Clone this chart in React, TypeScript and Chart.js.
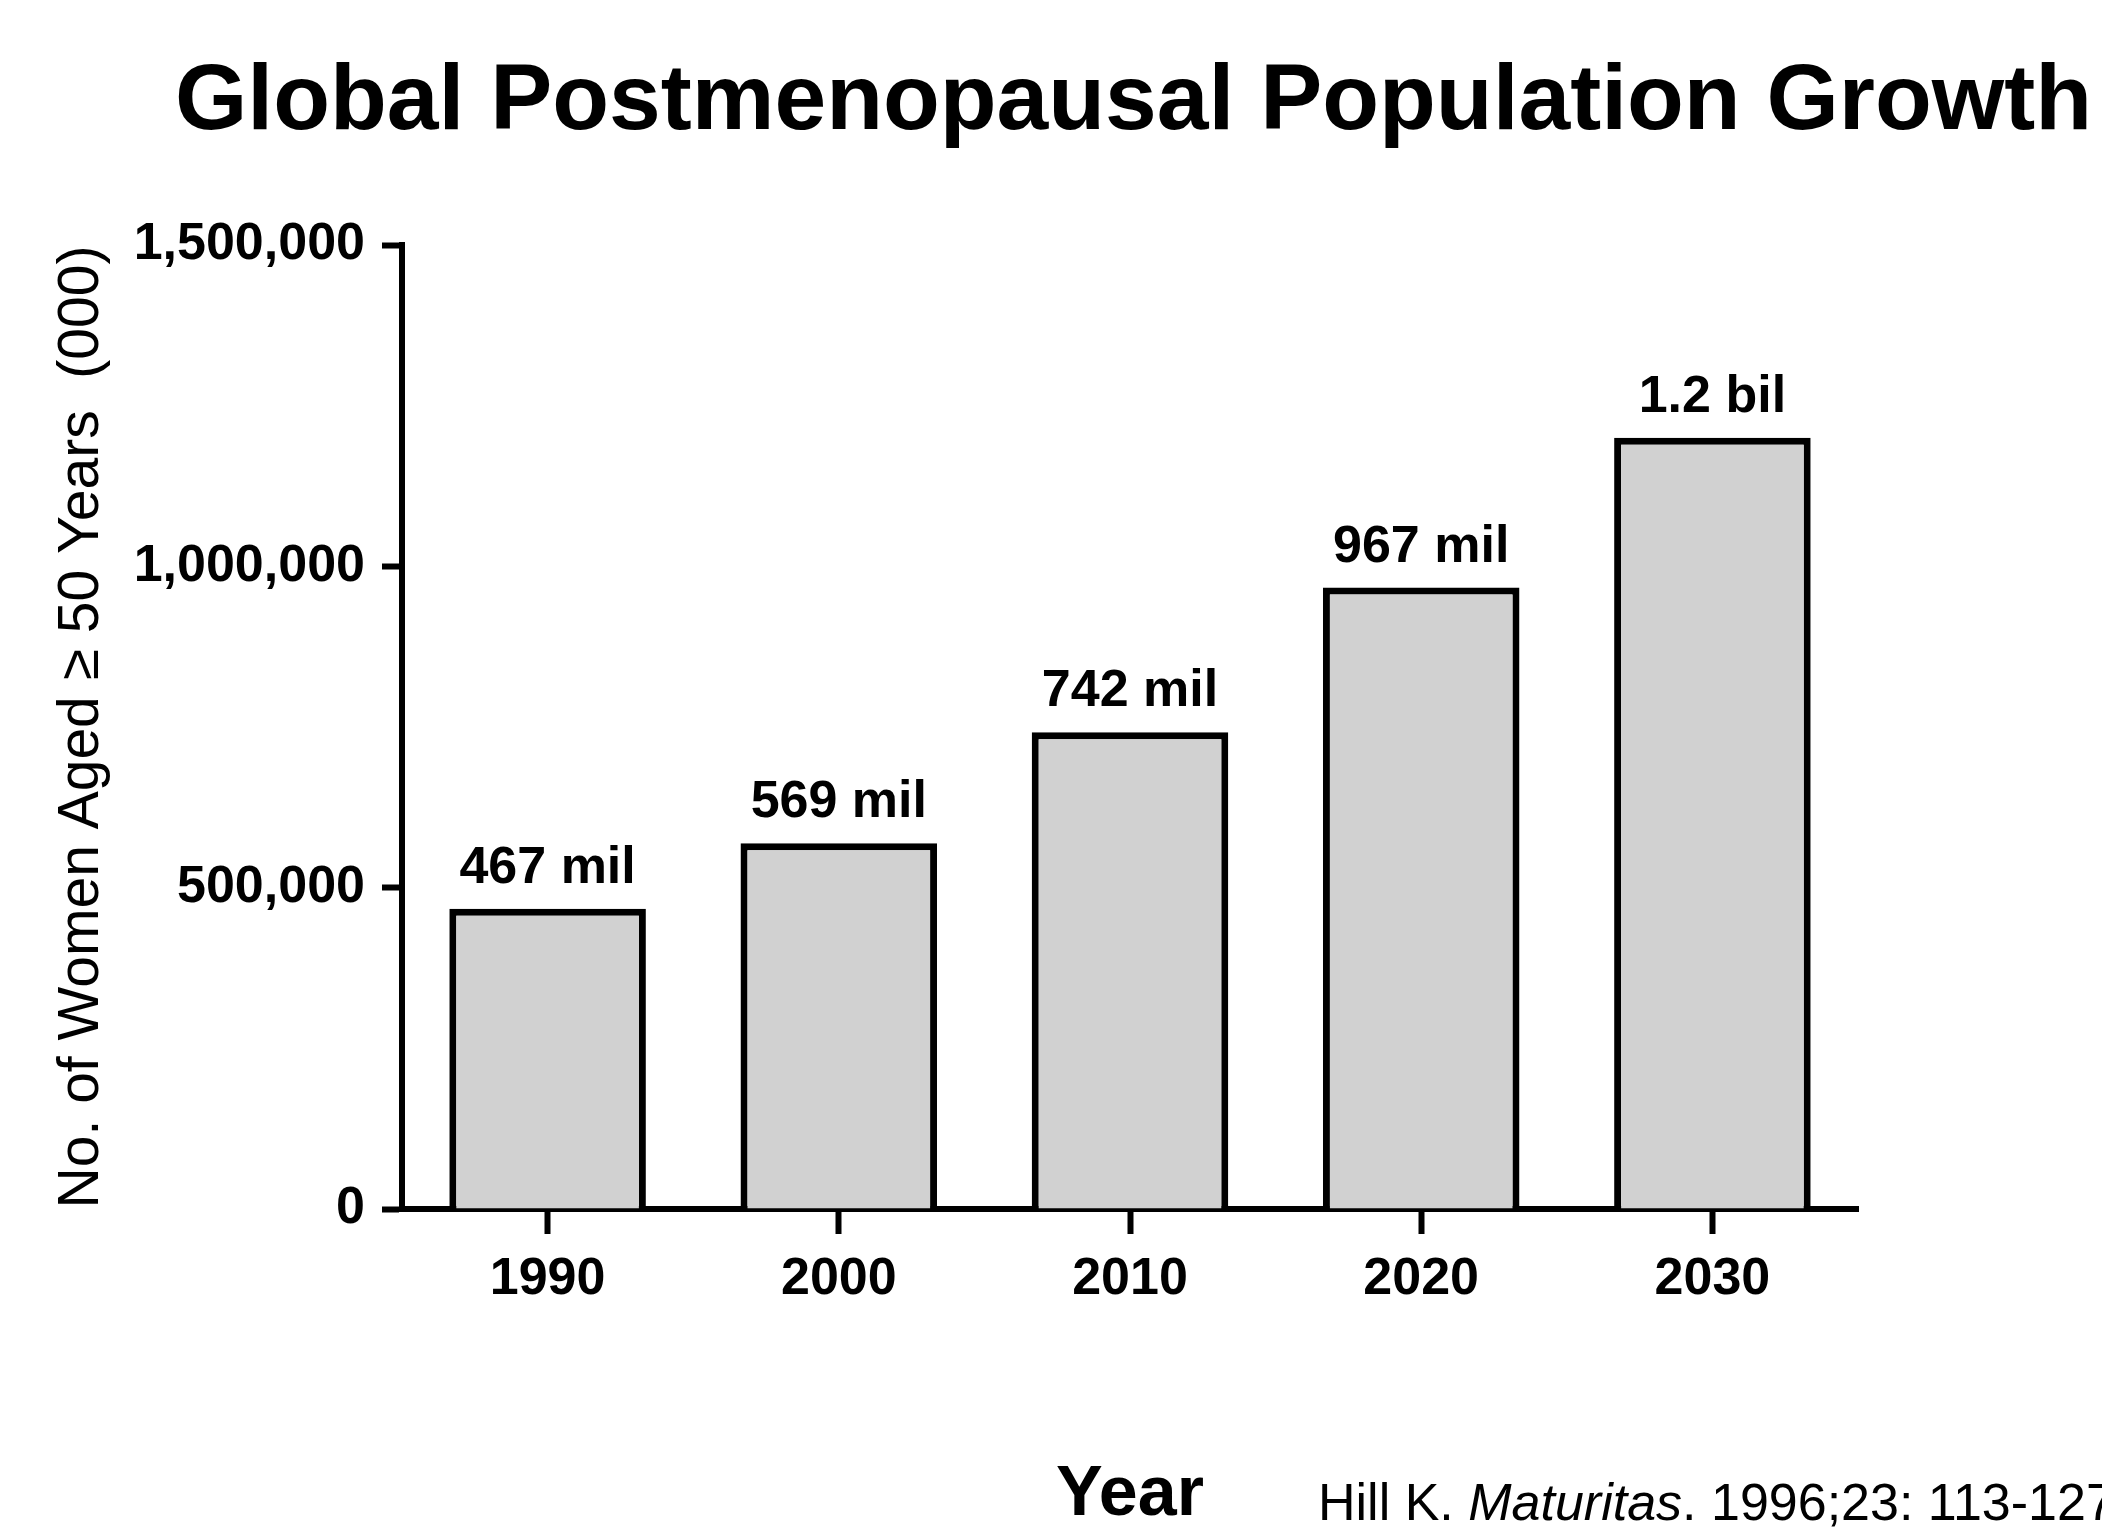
import React, { useEffect, useRef } from "react";
import { Chart, registerables } from "chart.js";

Chart.register(...registerables);

const categories = ["1990", "2000", "2010", "2020", "2030"];
const womenThousands = [467000, 569000, 742000, 967000, 1200000];
const barLabels = ["467 mil", "569 mil", "742 mil", "967 mil", "1.2 bil"];
const yTickValues = [0, 500000, 1000000, 1500000];
const chartTitle = "Global Postmenopausal Population Growth";
const yAxisTitle = "No. of Women Aged \u2265 50 Years  (000)";
const xAxisTitle = "Year";
const citationParts = ["Hill K. ", "Maturitas", ". 1996;23: 113-127"];

const FONT = "'Liberation Sans', Arial, Helvetica, sans-serif";

const barLabelPlugin = {
  id: "barLabels",
  afterDatasetsDraw(chart: any) {
    const ctx = chart.ctx;
    const meta = chart.getDatasetMeta(0);
    ctx.save();
    ctx.font = `bold 52px ${FONT}`;
    ctx.fillStyle = "#000";
    ctx.textAlign = "center";
    ctx.textBaseline = "alphabetic";
    meta.data.forEach((el: any, i: number) => {
      ctx.fillText(barLabels[i], el.x, el.y - 26);
    });
    ctx.restore();
  },
};

const textPlugin = {
  id: "extraText",
  afterDraw(chart: any) {
    const ctx = chart.ctx;
    ctx.save();
    ctx.fillStyle = "#000";
    ctx.textBaseline = "alphabetic";
    ctx.textAlign = "left";
    ctx.font = `bold 93px ${FONT}`;
    ctx.fillText(chartTitle, 175, 129);

    let x = 1318;
    const y = 1520;
    citationParts.forEach((part, i) => {
      ctx.font = `${i === 1 ? "italic " : ""}52px ${FONT}`;
      ctx.fillText(part, x, y);
      x += ctx.measureText(part).width;
    });
    ctx.restore();
  },
};

export default function App() {
  const canvasRef = useRef<HTMLCanvasElement | null>(null);

  useEffect(() => {
    document.body.style.margin = "0";
    const canvas = canvasRef.current;
    if (!canvas) return;
    Chart.defaults.font.family = FONT;
    Chart.defaults.color = "#000";

    const chart = new Chart(canvas, {
      type: "bar",
      data: {
        labels: categories,
        datasets: [
          {
            data: womenThousands,
            backgroundColor: "#d1d1d1",
            borderColor: "#000",
            borderWidth: 7,
            categoryPercentage: 1,
            barPercentage: 0.675,
          },
        ],
      },
      options: {
        responsive: false,
        animation: false,
        devicePixelRatio: 1,
        layout: { padding: { top: 245, right: 244, left: 0, bottom: 0 } },
        plugins: {
          legend: { display: false },
          tooltip: { enabled: false },
          title: { display: false },
        },
        scales: {
          x: {
            offset: true,
            afterFit: (s: any) => {
              s.height = 323;
            },
            border: { display: true, color: "#000", width: 6 },
            grid: {
              display: true,
              offset: false,
              drawOnChartArea: false,
              drawTicks: true,
              tickLength: 25,
              tickWidth: 6,
              tickColor: "#000",
            },
            ticks: {
              font: { size: 52, weight: "bold" },
              color: "#000",
              padding: 14,
              maxRotation: 0,
            },
            title: {
              display: true,
              text: xAxisTitle,
              font: { size: 70, weight: "bold", lineHeight: 1.05 },
              color: "#000",
              padding: { top: 0, bottom: 0 },
            },
          },
          y: {
            min: 0,
            max: 1500000,
            afterFit: (s: any) => {
              s.width = 402;
            },
            afterBuildTicks: (s: any) => {
              s.ticks = yTickValues.map((v) => ({ value: v }));
            },
            border: { display: true, color: "#000", width: 6 },
            grid: {
              display: true,
              drawOnChartArea: false,
              drawTicks: true,
              tickLength: 20,
              tickWidth: 6,
              tickColor: "#000",
            },
            ticks: {
              font: { size: 52, weight: "bold" },
              color: "#000",
              padding: 17,
              callback: (v: any) => Number(v).toLocaleString("en-US"),
            },
            title: {
              display: true,
              text: yAxisTitle,
              font: { size: 57, weight: "normal" },
              color: "#000",
              padding: { top: 48, bottom: 0 },
            },
          },
        },
      },
      plugins: [barLabelPlugin, textPlugin],
    });

    return () => {
      chart.destroy();
    };
  }, []);

  return (
    <div style={{ width: 2102, height: 1532, background: "#fff" }}>
      <canvas
        ref={canvasRef}
        width={2102}
        height={1532}
        style={{ display: "block", width: 2102, height: 1532 }}
      />
    </div>
  );
}
